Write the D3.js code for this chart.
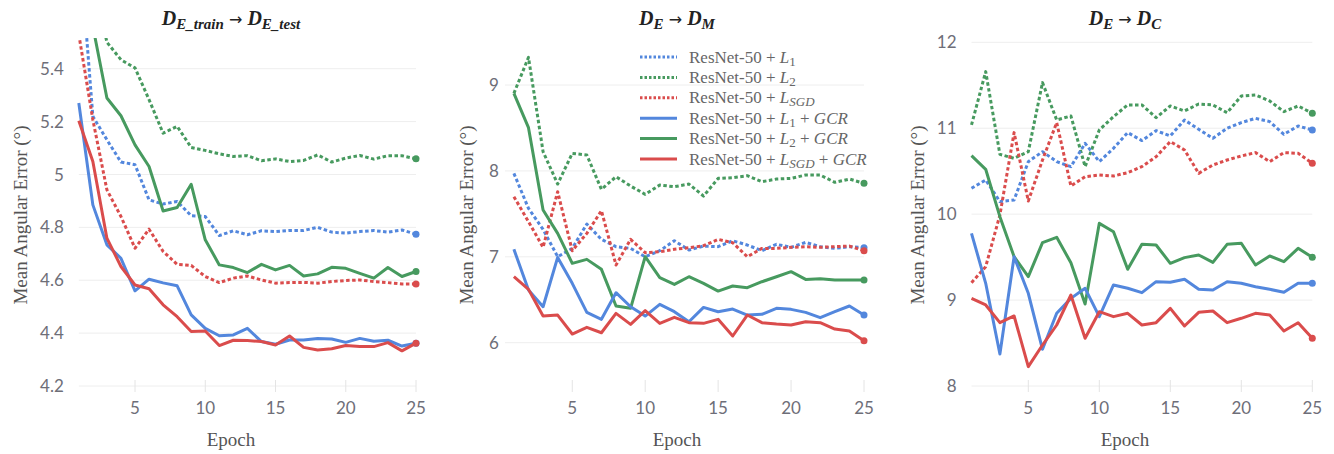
<!DOCTYPE html>
<html><head><meta charset="utf-8">
<script src="https://cdn.jsdelivr.net/npm/d3@7/dist/d3.min.js"></script>
<style>
html,body{margin:0;padding:0;background:#fff;}
svg{display:block;}
</style></head><body>
<svg id="chart" width="1334" height="454"></svg>
<script>
const epochs = d3.range(1, 26);
const xTicks = [5, 10, 15, 20, 25];

// Panel 1: D_E_train -> D_E_test
const p1Ticks = [4.2, 4.4, 4.6, 4.8, 5.0, 5.2, 5.4];
const p1_L1 = [5.9, 5.22, 5.131, 5.047, 5.037, 4.904, 4.888, 4.898, 4.844, 4.841, 4.769, 4.787, 4.772, 4.787, 4.784, 4.788, 4.788, 4.8, 4.782, 4.778, 4.784, 4.788, 4.782, 4.79, 4.774];
const p1_L2 = [6.1, 5.75, 5.5, 5.434, 5.403, 5.283, 5.156, 5.182, 5.102, 5.091, 5.078, 5.068, 5.071, 5.052, 5.059, 5.049, 5.053, 5.074, 5.047, 5.062, 5.072, 5.058, 5.071, 5.071, 5.059];
const p1_LSGD = [5.53, 5.207, 4.942, 4.841, 4.721, 4.793, 4.709, 4.66, 4.656, 4.614, 4.591, 4.608, 4.616, 4.601, 4.589, 4.591, 4.592, 4.589, 4.595, 4.599, 4.601, 4.595, 4.591, 4.586, 4.586];
const p1_L1_GCR = [5.27, 4.885, 4.734, 4.683, 4.56, 4.604, 4.59, 4.579, 4.469, 4.418, 4.39, 4.393, 4.418, 4.368, 4.358, 4.374, 4.374, 4.38, 4.378, 4.365, 4.38, 4.369, 4.373, 4.351, 4.362];
const p1_L2_GCR = [6.2, 5.56, 5.289, 5.222, 5.112, 5.03, 4.862, 4.875, 4.963, 4.753, 4.658, 4.648, 4.629, 4.66, 4.639, 4.656, 4.616, 4.624, 4.649, 4.645, 4.626, 4.608, 4.648, 4.614, 4.633];
const p1_LSGD_GCR = [5.203, 5.049, 4.759, 4.652, 4.582, 4.568, 4.507, 4.462, 4.406, 4.408, 4.353, 4.373, 4.372, 4.368, 4.355, 4.389, 4.346, 4.336, 4.341, 4.353, 4.349, 4.349, 4.364, 4.333, 4.362];

// Panel 2: D_E -> D_M
const p2Ticks = [6, 7, 8, 9];
const p2_L1 = [7.971, 7.564, 7.319, 7.001, 7.098, 7.381, 7.203, 7.118, 7.098, 7.001, 7.071, 7.187, 7.079, 7.125, 7.118, 7.187, 7.137, 7.071, 7.145, 7.11, 7.168, 7.118, 7.098, 7.118, 7.106];
const p2_L2 = [8.903, 9.322, 8.224, 7.847, 8.204, 8.185, 7.785, 7.932, 7.824, 7.727, 7.835, 7.816, 7.847, 7.707, 7.913, 7.921, 7.944, 7.874, 7.905, 7.913, 7.952, 7.952, 7.867, 7.905, 7.855];
const p2_LSGD = [7.7, 7.409, 7.11, 7.758, 7.071, 7.273, 7.537, 6.904, 7.203, 7.048, 7.059, 7.087, 7.106, 7.129, 7.203, 7.164, 7.001, 7.098, 7.098, 7.11, 7.118, 7.11, 7.118, 7.125, 7.071];
const p2_L1_GCR = [7.087, 6.613, 6.419, 6.993, 6.691, 6.353, 6.272, 6.582, 6.419, 6.31, 6.446, 6.361, 6.244, 6.411, 6.361, 6.392, 6.322, 6.33, 6.4, 6.388, 6.353, 6.291, 6.361, 6.427, 6.322];
const p2_L2_GCR = [8.903, 8.503, 7.544, 7.273, 6.924, 6.97, 6.854, 6.427, 6.4, 7.001, 6.757, 6.679, 6.768, 6.691, 6.601, 6.66, 6.64, 6.71, 6.768, 6.827, 6.737, 6.745, 6.73, 6.73, 6.73];
const p2_LSGD_GCR = [6.768, 6.621, 6.31, 6.322, 6.101, 6.179, 6.116, 6.341, 6.213, 6.373, 6.225, 6.295, 6.233, 6.225, 6.272, 6.078, 6.322, 6.233, 6.217, 6.206, 6.244, 6.233, 6.159, 6.136, 6.023];

// Panel 3: D_E -> D_C
const p3Ticks = [8, 9, 10, 11, 12];
const p3_L1 = [10.301, 10.398, 10.146, 10.165, 10.611, 10.727, 10.611, 10.553, 10.824, 10.611, 10.766, 10.949, 10.856, 10.972, 10.91, 11.096, 10.987, 10.883, 10.999, 11.065, 11.115, 11.077, 10.929, 11.026, 10.98];
const p3_L2 = [11.038, 11.659, 10.696, 10.65, 10.727, 11.531, 11.096, 11.143, 10.553, 10.98, 11.135, 11.271, 11.271, 11.123, 11.259, 11.201, 11.282, 11.271, 11.181, 11.375, 11.387, 11.317, 11.193, 11.259, 11.174];
const p3_LSGD = [9.203, 9.389, 9.99, 10.949, 10.153, 10.63, 11.065, 10.328, 10.436, 10.456, 10.444, 10.483, 10.553, 10.669, 10.844, 10.747, 10.475, 10.572, 10.63, 10.677, 10.716, 10.611, 10.716, 10.708, 10.592];
const p3_L1_GCR = [9.777, 9.195, 8.372, 9.505, 9.079, 8.427, 8.846, 9.02, 9.137, 8.807, 9.176, 9.137, 9.086, 9.214, 9.207, 9.242, 9.125, 9.117, 9.214, 9.195, 9.156, 9.125, 9.09, 9.195, 9.195];
const p3_L2_GCR = [10.681, 10.522, 9.971, 9.505, 9.273, 9.668, 9.73, 9.435, 8.954, 9.893, 9.796, 9.358, 9.649, 9.641, 9.428, 9.494, 9.525, 9.439, 9.649, 9.661, 9.408, 9.513, 9.447, 9.602, 9.498];
const p3_LSGD_GCR = [9.02, 8.943, 8.737, 8.815, 8.225, 8.477, 8.71, 9.059, 8.555, 8.865, 8.807, 8.846, 8.71, 8.737, 8.904, 8.698, 8.857, 8.873, 8.737, 8.788, 8.846, 8.826, 8.64, 8.737, 8.555];

const COL = {blue: "#5387DD", green: "#479A5F", red: "#DA4C4C"};
const seriesStyle = {
  L1: {c: COL.blue, dash: true}, L2: {c: COL.green, dash: true}, LSGD: {c: COL.red, dash: true},
  L1_GCR: {c: COL.blue, dash: false}, L2_GCR: {c: COL.green, dash: false}, LSGD_GCR: {c: COL.red, dash: false}
};
const drawOrder = ["L2", "L1", "LSGD", "L2_GCR", "L1_GCR", "LSGD_GCR"];

const panels = [
  {x0: 78.8, x1: 416, yA: 4.2, yApx: 386, yB: 5.4, yBpx: 68.7, ticks: p1Ticks, fmt: d => String(+d.toFixed(1)),
   data: {L1: p1_L1, L2: p1_L2, LSGD: p1_LSGD, L1_GCR: p1_L1_GCR, L2_GCR: p1_L2_GCR, LSGD_GCR: p1_LSGD_GCR},
   title: [["D", ""], ["E_train", "sub"], [" \u2192 ", "arrow"], ["D", ""], ["E_test", "sub"]], ylabX: 20, gridX0: 78.8, cx: 231},
  {x0: 513.9, x1: 864, yA: 6, yApx: 342.7, yB: 9, yBpx: 85, ticks: p2Ticks, fmt: d => String(d),
   data: {L1: p2_L1, L2: p2_L2, LSGD: p2_LSGD, L1_GCR: p2_L1_GCR, L2_GCR: p2_L2_GCR, LSGD_GCR: p2_LSGD_GCR},
   title: [["D", ""], ["E", "sub"], [" \u2192 ", "arrow"], ["D", ""], ["M", "sub"]], ylabX: 466, gridX0: 505, cx: 677},
  {x0: 971.5, x1: 1312.3, yA: 8, yApx: 386, yB: 12, yBpx: 42.3, ticks: p3Ticks, fmt: d => String(d),
   data: {L1: p3_L1, L2: p3_L2, LSGD: p3_LSGD, L1_GCR: p3_L1_GCR, L2_GCR: p3_L2_GCR, LSGD_GCR: p3_LSGD_GCR},
   title: [["D", ""], ["E", "sub"], [" \u2192 ", "arrow"], ["D", ""], ["C", "sub"]], ylabX: 917, gridX0: 971.5, cx: 1125}
];

const svg = d3.select("#chart");
const plotTop = 38, plotBottom = 392;
const TICKCOL = "#6e6e78";
const SERIF = "'Liberation Serif', 'DejaVu Serif', serif";
const SANS = "Lato, 'Open Sans', sans-serif";

panels.forEach((p, i) => {
  const x = d3.scaleLinear().domain([1, 25]).range([p.x0, p.x1]);
  const y = d3.scaleLinear().domain([p.yA, p.yB]).range([p.yApx, p.yBpx]);
  const g = svg.append("g");

  svg.append("clipPath").attr("id", "clip" + i).append("rect")
    .attr("x", p.x0 - 10).attr("y", plotTop).attr("width", p.x1 - p.x0 + 20).attr("height", plotBottom - plotTop);

  g.selectAll(".hg").data(p.ticks).enter().append("line")
    .attr("x1", p.gridX0).attr("x2", p.x1)
    .attr("y1", d => y(d)).attr("y2", d => y(d))
    .attr("stroke", "#eeeeee").attr("stroke-width", 1);

  g.selectAll(".xt").data(xTicks).enter().append("line")
    .attr("x1", d => x(d)).attr("x2", d => x(d))
    .attr("y1", plotBottom - 12).attr("y2", plotBottom)
    .attr("stroke", "#e4e4e4").attr("stroke-width", 1);

  g.selectAll(".yl").data(p.ticks).enter().append("text")
    .attr("x", p.x0 - 15).attr("y", d => y(d)).attr("dy", "0.36em")
    .attr("text-anchor", "end").attr("font-family", SANS).attr("font-size", 17)
    .attr("fill", TICKCOL).text(p.fmt);

  g.selectAll(".xl").data(xTicks).enter().append("text")
    .attr("x", d => x(d)).attr("y", 414)
    .attr("text-anchor", "middle").attr("font-family", SANS).attr("font-size", 17)
    .attr("fill", TICKCOL).text(d => d);

  const lines = g.append("g").attr("clip-path", `url(#clip${i})`);
  const lineGen = d3.line().x((d, j) => x(epochs[j])).y(d => y(d));
  drawOrder.forEach(name => {
    const st = seriesStyle[name];
    const vals = p.data[name];
    lines.append("path").datum(vals)
      .attr("d", lineGen).attr("fill", "none")
      .attr("stroke", st.c).attr("stroke-width", 3)
      .attr("stroke-linejoin", "round")
      .attr("stroke-dasharray", st.dash ? "3.5,2.5" : null);
    lines.append("circle")
      .attr("cx", x(epochs[24])).attr("cy", y(vals[24])).attr("r", 3.5)
      .attr("fill", st.c);
  });

  const t = g.append("text").attr("x", p.cx).attr("y", 25).attr("text-anchor", "middle")
    .attr("font-family", SERIF).attr("font-size", 20).attr("font-weight", "bold")
    .attr("font-style", "italic").attr("fill", "#222");
  p.title.forEach(([s, kind]) => {
    const ts = t.append("tspan").text(s);
    if (kind === "sub") ts.attr("font-size", 15).attr("baseline-shift", "-28%");
    if (kind === "arrow") ts.attr("font-style", "normal").attr("font-weight", "normal").attr("font-family", "'DejaVu Sans', sans-serif").attr("font-size", 16);
  });

  g.append("text").attr("x", p.cx).attr("y", 446).attr("text-anchor", "middle")
    .attr("font-family", SERIF).attr("font-size", 19).attr("fill", "#555").text("Epoch");
  g.append("text").attr("transform", `translate(${p.ylabX},215) rotate(-90)`)
    .attr("text-anchor", "middle").attr("dy", "0.35em")
    .attr("font-family", SERIF).attr("font-size", 19).attr("fill", "#555").text("Mean Angular Error (\u00B0)");
});

const legendItems = [
  {key: "L1", parts: [["ResNet-50 + ", "n"], ["L", "i"], ["1", "s"]]},
  {key: "L2", parts: [["ResNet-50 + ", "n"], ["L", "i"], ["2", "s"]]},
  {key: "LSGD", parts: [["ResNet-50 + ", "n"], ["L", "i"], ["SGD", "si"]]},
  {key: "L1_GCR", parts: [["ResNet-50 + ", "n"], ["L", "i"], ["1", "s"], [" + ", "n"], ["GCR", "i"]]},
  {key: "L2_GCR", parts: [["ResNet-50 + ", "n"], ["L", "i"], ["2", "s"], [" + ", "n"], ["GCR", "i"]]},
  {key: "LSGD_GCR", parts: [["ResNet-50 + ", "n"], ["L", "i"], ["SGD", "si"], [" + ", "n"], ["GCR", "i"]]}
];
const lg = svg.append("g");
const legY = d3.scaleLinear().domain([0, 5]).range([57, 159]);
legendItems.forEach((it, k) => {
  const st = seriesStyle[it.key];
  const yy = legY(k);
  lg.append("line").attr("x1", 640).attr("x2", 677).attr("y1", yy).attr("y2", yy)
    .attr("stroke", st.c).attr("stroke-width", 3)
    .attr("stroke-dasharray", st.dash ? "2.5,2" : null);
  const tx = lg.append("text").attr("x", 689).attr("y", yy).attr("dy", "0.33em")
    .attr("font-family", SERIF).attr("font-size", 17).attr("fill", "#666");
  it.parts.forEach(([s, kind]) => {
    const ts = tx.append("tspan").text(s);
    if (kind === "i") ts.attr("font-style", "italic");
    if (kind === "s" || kind === "si") {
      ts.attr("font-size", 13).attr("baseline-shift", "-25%");
      if (kind === "si") ts.attr("font-style", "italic");
    }
  });
});
</script>
</body></html>
